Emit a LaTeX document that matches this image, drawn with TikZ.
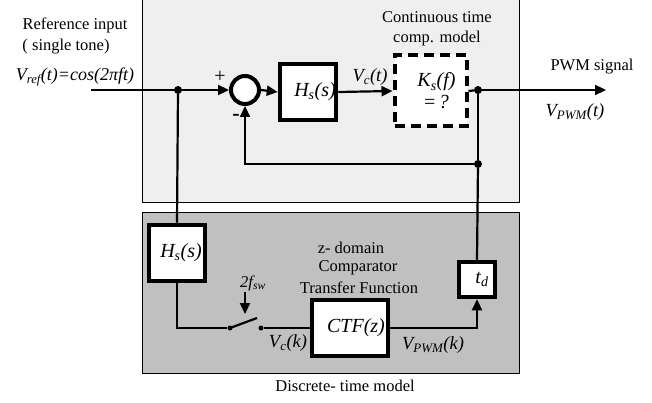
\documentclass[tikz,border=0pt]{standalone}
\usepackage{fontspec}
\setmainfont{Liberation Serif}
\usetikzlibrary{arrows.meta}
\definecolor{topbg}{HTML}{EFEFEF}
\definecolor{botbg}{HTML}{C0C0C0}
\begin{document}
\begin{tikzpicture}[x=1pt,y=-1pt,
  wire/.style={line width=2.2pt},
  arr/.style={wire,-{Triangle[length=11pt,width=10pt]}},
  blk/.style={draw,line width=4.5pt,fill=white,inner sep=0pt,font=\fontsize{20}{22}\selectfont\itshape},
  dot/.style={circle,fill,inner sep=0pt,minimum size=8pt},
  sdot/.style={circle,fill,inner sep=0pt,minimum size=5pt},
  txt/.style={font=\fontsize{16.5}{20}\selectfont,align=center,inner sep=0pt},
  itx/.style={font=\fontsize{18.5}{20}\selectfont\itshape,inner sep=0pt},
]
\useasboundingbox (0,0) rectangle (652,403);
% frames
\draw[line width=1pt,fill=topbg] (142,-2) rectangle (519,203);
\draw[line width=1pt,fill=botbg] (142,212) rectangle (519,373);

% nodes
\coordinate (in) at (91,90);
\node[dot] (d1) at (178,90) {};
\node[draw,circle,line width=4pt,fill=white,minimum size=28pt,inner sep=0pt] (sum) at (245,90) {};
\node[blk,minimum width=56pt,minimum height=56pt] (hs1) at (308,92) {\hspace*{14pt}H\textsubscript{s}(s)};
\node[draw,line width=4pt,dash pattern=on 10pt off 6pt,fill=white,minimum width=72pt,minimum height=71pt,inner sep=0pt,font=\fontsize{20}{23}\selectfont\itshape,align=center] (ks) at (430.5,91) {\hspace*{12pt}K\textsubscript{s}(f)\\[-1pt]\hspace*{12pt}\upshape =\,\itshape ?};
\node[dot] (do) at (478,90) {};
\coordinate (out) at (606,90);
\node[dot] (df) at (478,164) {};

\node[blk,minimum width=56pt,minimum height=56pt] (hs2) at (177,253) {\hspace*{8pt}H\textsubscript{s}(s)};
\node[blk,minimum width=76pt,minimum height=56pt] (ctf) at (350,328) {\hspace*{12pt}CTF(z)};
\node[blk,minimum width=36pt,minimum height=35pt] (td) at (477,279.5) {\hspace*{10pt}t\textsubscript{d}};
\node[sdot] (sw1) at (230,328) {};
\node[sdot] (sw2) at (261,328) {};
\coordinate (lev) at (257,318);
\coordinate (ca) at (245,292);
\coordinate (cb) at (245,314);

% connectors
\draw[wire] (in) -- (d1);
\draw[arr] (d1) -- (sum.west);
\draw[arr] (sum.east) -- (hs1.west);
\draw[arr] (hs1.east) -- (ks.west);
\draw[wire] (ks.east) -- (do);
\draw[arr] (do) -- (out);
\draw[wire] (do) -- (df);
\draw[arr] (df) -| (sum.south);
\draw[wire] (df) -- (td.north);
\draw[wire] (d1) -- (hs2.north);
\draw[wire] (hs2.south) |- (sw1);
\draw[wire] (sw1.center) -- (lev);
\draw[wire] (sw2) -- (ctf.west);
\draw[arr] (ctf.east) -| (td.south);
\draw[arr] (ca) -- (cb);

% labels
\node[txt] (t1) at (75,25) {Reference input};
\node[txt] (t2) at (66,47) {( single tone)};
\node[itx,font=\fontsize{18}{20}\selectfont\itshape] (t3) at (75,77) {V\textsubscript{ref}(t)=cos(2πft)};
\node[txt] (t4) at (437,17) {Continuous time};
\node[txt] (t5) at (437,39) {comp. model};
\node[txt] (t6) at (592,67) {PWM signal};
\node[itx] (t7) at (575,112) {V\textsubscript{PWM}(t)};
\node[itx] (t8) at (370,77) {V\textsubscript{c}(t)};
\node[txt,font=\fontsize{20}{20}\selectfont] (tp) at (220,77) {+};
\node[txt,font=\fontsize{22}{20}\selectfont\bfseries] (tm) at (236,117) {-};
\node[txt] (t9) at (351,248) {z- domain};
\node[txt] (t10) at (358,268) {Comparator};
\node[txt] (t11) at (359,288) {Transfer Function};
\node[itx,font=\fontsize{16.5}{18}\selectfont\itshape] (t12) at (253,283) {2f\textsubscript{sw}};
\node[itx] (t13) at (288,343) {V\textsubscript{c}(k)};
\node[itx] (t14) at (433,345) {V\textsubscript{PWM}(k)};
\node[txt] (t15) at (345,386) {Discrete- time model};
\end{tikzpicture}
\end{document}
